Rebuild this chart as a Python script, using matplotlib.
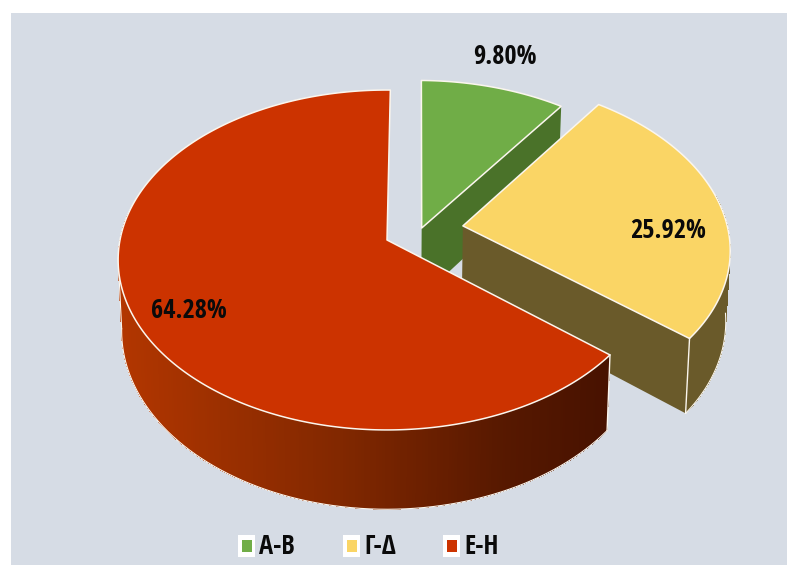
import matplotlib
matplotlib.use('Agg')
import matplotlib.pyplot as plt
from matplotlib.colors import LinearSegmentedColormap
from matplotlib.patches import Polygon, Rectangle
import numpy as np

# chart data
labels = ['Α-Β', 'Γ-Δ', 'Ε-Η']
values = [9.80, 25.92, 64.28]
value_text = ['9.80%', '25.92%', '64.28%']
top_colors = ['#70AD47', '#FAD565', '#CC3300']
wall_colors = ['#4A7229', '#6A5A2A', None]
explode_u = [0.131, 0.287, 0.0]
explode_v = [0.072, 0.085, 0.0]
text_xy = [(505, 57), (668, 230), (189, 310)]
legend_x = [238, 343, 443]

# perspective of the pie, in pixels of the picture
CX, CY = 387, 240
RX, RY = 267, 167.6
K = 0.1176
DEPTH = 70
BOTTOM_SHRINK = 0.987
START_ANGLE = 0.8
EDGE = '#FBF6EE'

plt.rcParams['font.family'] = ['Open Sans Condensed', 'Fira Sans Condensed', 'Open Sans', 'DejaVu Sans']

red_wall = LinearSegmentedColormap.from_list(
    'red_wall', [(0, '#B23600'), (0.45, '#822800'), (0.8, '#561800'), (1, '#481200')])


def project(u, v):
    s = 1 / (1 + K * v)
    return CX + RX * u * s, CY - RY * v * s, s


def top_pt(u, v):
    x, y, s = project(u, v)
    return np.column_stack([x, y]) if np.ndim(x) else np.array([x, y])


def bottom_pt(u, v):
    x, y, s = project(u, v)
    pts = [CX + (x - CX) * BOTTOM_SHRINK, y + DEPTH * s]
    return np.column_stack(pts) if np.ndim(x) else np.array(pts)


fig = plt.figure(figsize=(7.87, 5.65), dpi=100, facecolor='white')
ax = fig.add_axes([0, 0, 1, 1])
ax.set_xlim(0, 787)
ax.set_ylim(565, 0)
ax.axis('off')
ax.add_patch(Rectangle((11, 13), 776, 552, facecolor='#D6DCE5', edgecolor='none'))

bounds = np.concatenate([[0], np.cumsum(values)]) / np.sum(values) * 2 * np.pi + np.radians(START_ANGLE)

for i in range(len(values)):
    base = 10 * (i + 1)
    a = np.linspace(bounds[i], bounds[i + 1], 400)
    u = explode_u[i] + np.sin(a)
    v = explode_v[i] + np.cos(a)
    u0, v0 = explode_u[i], explode_v[i]
    top = top_pt(u, v)
    bot = bottom_pt(u, v)
    front = np.cos(a) < 0.2
    rim = np.cos(a) < -0.1

    # radial wall on the clockwise end
    end_wall = [top_pt(u0, v0), top[-1], bot[-1], bottom_pt(u0, v0)]
    if wall_colors[i]:
        ax.add_patch(Polygon(end_wall, facecolor=wall_colors[i], edgecolor='none', zorder=base))

    # outer wall, small strips so the red one can shade along x
    if front.any():
        under = wall_colors[i] or '#B23600'
        ax.add_patch(Polygon(np.vstack([top[front], bot[front][::-1]]), facecolor=under,
                             edgecolor='none', zorder=base))
    for j in range(len(a) - 1):
        if not front[j]:
            continue
        quad = [top[j], top[j + 1], bot[j + 1], bot[j]]
        if wall_colors[i]:
            c = wall_colors[i]
        else:
            c = red_wall((top[j][0] - 118) / (607 - 118))
        ax.add_patch(Polygon(quad, facecolor=c, edgecolor='none', antialiased=False, zorder=base + 1))
    ax.plot(bot[rim, 0], bot[rim, 1], color=EDGE, lw=0.8, zorder=base + 2)
    if i > 0:
        k = 0 if i == 2 else -1
        ax.plot([top[k][0], bot[k][0]], [top[k][1], bot[k][1]], color=EDGE, lw=1, zorder=base + 2)
    if i == 2:
        # left silhouette of the wall
        k = np.nonzero(rim)[0][-1]
        ax.plot([top[k][0], bot[k][0]], [top[k][1], bot[k][1]], color=EDGE, lw=0.8, zorder=base + 2)

    # top face
    face = np.vstack([top_pt(u0, v0), top])
    ax.add_patch(Polygon(face, closed=True, facecolor=top_colors[i], edgecolor=EDGE, lw=1.1,
                         joinstyle='round', zorder=base + 3))

for txt, (x, y) in zip(value_text, text_xy):
    ax.text(x, y, txt, fontsize=19, ha='center', va='center', color='#0A0A0A',
            fontweight='bold', zorder=50)

# legend
for lab, x, c in zip(labels, legend_x, top_colors):
    ax.add_patch(Rectangle((x, 535), 17, 22, facecolor='white', edgecolor='none'))
    ax.add_patch(Rectangle((x + 4, 540), 10, 12, facecolor=c, edgecolor='none'))
    ax.text(x + 21, 546, lab, fontsize=19, ha='left', va='center', color='#0A0A0A',
            fontweight='bold', zorder=50)

fig.savefig('out.png', dpi=100)
